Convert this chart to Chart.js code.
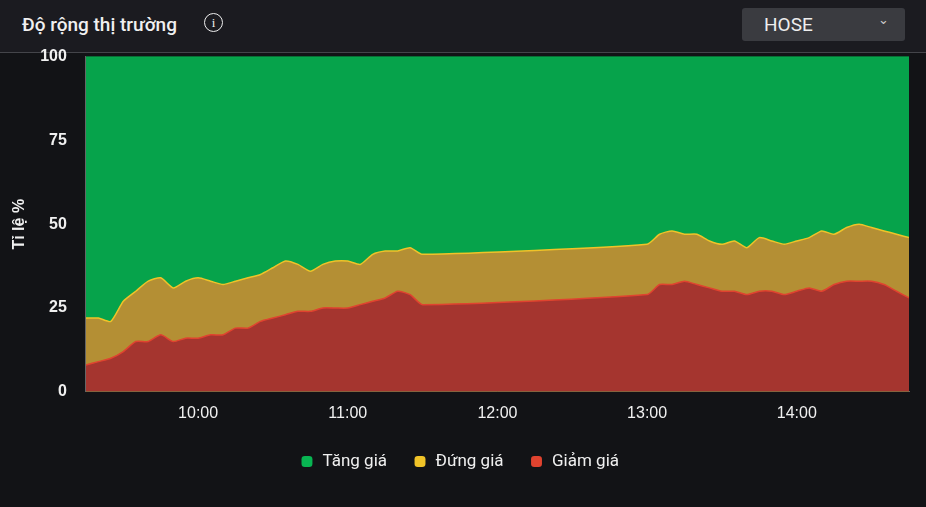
<!DOCTYPE html>
<html><head><meta charset="utf-8">
<script src="https://cdn.jsdelivr.net/npm/chart.js@4"></script>
<style>
html,body{margin:0;padding:0;background:#121316;width:926px;height:507px;overflow:hidden;font-family:Roboto,sans-serif}
#hdr{position:absolute;left:0;top:0;width:926px;height:52px;background:#1b1b20;border-bottom:1px solid #44454a}
#title{position:absolute;left:22px;top:13px;color:#f0f0f0;font-size:19px;font-weight:500}
#info{position:absolute;left:204px;top:13px;width:17px;height:17px;border:1.5px solid #eee;border-radius:50%;color:#eee;font-size:13px;text-align:center;line-height:17px;font-family:serif}
#sel{position:absolute;left:742px;top:8px;width:163px;height:33px;background:#3a3b40;border-radius:3px;color:#eee;font-size:19px}
#sel span{position:absolute;left:22px;top:5px}
#sel i{position:absolute;right:16px;top:4px;font-style:normal;font-size:13px;color:#ccc}
#wrap{position:absolute;left:0;top:36px;width:926px;height:471px}
</style></head><body>
<div id="hdr"><div id="title">Độ rộng thị trường</div><div id="info">i</div><div id="sel"><span>HOSE</span><i>&#8964;</i></div></div>
<div id="wrap"><canvas id="c"></canvas></div>
<script>
const times=["9:15","9:20","9:25","9:30","9:35","9:40","9:45","9:50","9:55","10:00","10:05","10:10","10:15","10:20","10:25","10:30","10:35","10:40","10:45","10:50","10:55","11:00","11:05","11:10","11:15","11:20","11:25","11:30","13:00","13:05","13:10","13:15","13:20","13:25","13:30","13:35","13:40","13:45","13:50","13:55","14:00","14:05","14:10","14:15","14:20","14:25","14:30","14:35","14:40","14:45"];
const giam=[8,9,10,12,15,15,17,15,16,16,17,17,19,19,21,22,23,24,24,25,25,25,26,27,28,30,29,26,29,32,32,33,32,31,30,30,29,30,30,29,30,31,30,32,33,33,33,32,30,28];
const dungTop=[22,22,21,27,30,33,34,31,33,34,33,32,33,34,35,37,39,38,36,38,39,39,38,41,42,42,43,41,44,47,48,47,47,45,44,45,43,46,45,44,45,46,48,47,49,50,49,48,47,46];
const dung=dungTop.map((v,i)=>v-giam[i]);
const tang=dungTop.map(v=>100-v);
const yTicks=[0,25,50,75,100];
const xTicks=["10:00","11:00","12:00","13:00","14:00"];
const toMin=t=>{const [h,m]=t.split(":").map(Number);return h*60+m;};
const pts=arr=>arr.map((v,i)=>({x:toMin(times[i]),y:v}));
const ds=(label,data,bg,bd)=>({label,data:pts(data),backgroundColor:bg,borderColor:bd,borderWidth:1.5,fill:true,pointRadius:0,tension:0.2});
new Chart(document.getElementById('c'),{type:'line',
data:{datasets:[ds('Giảm giá',giam,'#a5352f','#e0432f'),ds('Đứng giá',dung,'#b48f34','#f0c328'),ds('Tăng giá',tang,'#06a34b','#08b552')]},
options:{responsive:true,maintainAspectRatio:false,animation:false,
layout:{padding:{left:10,right:17,top:0,bottom:27}},
plugins:{legend:{position:'bottom',labels:{color:'#f0f0f0',font:{size:17,family:'Roboto'},usePointStyle:true,boxWidth:14,boxHeight:9,padding:26,
generateLabels:ch=>ch.data.datasets.map((d,i)=>({text:d.label,fillStyle:d.borderColor,strokeStyle:d.borderColor,lineWidth:0,pointStyle:'rectRounded',datasetIndex:i,fontColor:'#f0f0f0'})).reverse()}},tooltip:{enabled:false}},
scales:{
x:{type:'linear',min:555,max:885,grid:{display:false,drawTicks:true,tickLength:8,color:'#555'},border:{color:'#666'},
afterBuildTicks:s=>{s.ticks=xTicks.map(t=>({value:toMin(t)}));},
ticks:{color:'#f0f0f0',font:{size:16,weight:'500'},callback:v=>{const h=Math.floor(v/60),m=v%60;return h+':'+String(m).padStart(2,'0');},padding:4}},
y:{stacked:true,min:0,max:100,grid:{display:false},border:{color:'#666'},
afterBuildTicks:s=>{s.ticks=yTicks.map(v=>({value:v}));},
ticks:{color:'#f0f0f0',font:{size:16,weight:'bold'},padding:11},
title:{display:true,text:'Tỉ lệ %',color:'#f0f0f0',font:{size:16,weight:'bold'},padding:0}}}}});
</script></body></html>
